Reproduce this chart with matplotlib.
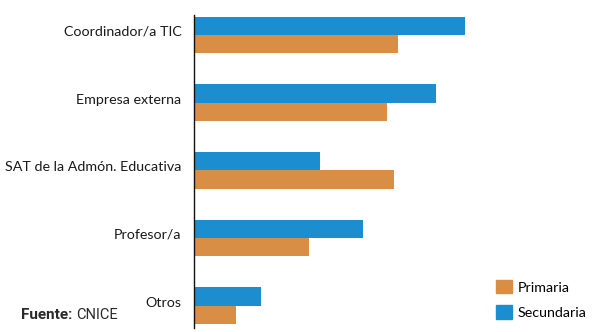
import matplotlib
matplotlib.use("Agg")
import matplotlib.pyplot as plt
import numpy as np
from matplotlib.patches import Patch

categories = ["Coordinador/a TIC", "Empresa externa", "SAT de la Admón. Educativa",
              "Profesor/a", "Otros"]
secundaria = [67.7, 60.5, 31.4, 42.2, 16.7]
primaria = [50.9, 48.2, 50.0, 28.7, 10.5]
series_names = ["Primaria", "Secundaria"]

BLUE, ORANGE = "#1c8ed0", "#d98e45"
FONT = ["Lato", "DejaVu Sans"]

fig = plt.figure(figsize=(5.95, 3.32), dpi=100)
ax = fig.add_axes([194 / 595, 1 - 328 / 332, (589 - 194) / 595, (328 - 15) / 332])

y = np.arange(len(categories))
h = 0.27
ax.barh(y - h / 2, secundaria, height=h, color=BLUE, zorder=2)
ax.barh(y + h / 2, primaria, height=h, color=ORANGE, zorder=2)

ax.set_ylim(len(categories) - 1 + 0.33, -0.296)
ax.set_xlim(0, (589 - 194) / 4)
ax.set_xticks([])
ax.set_yticks(y - 0.06)
ax.set_yticklabels(categories, fontsize=10.3, family=FONT, color="#1a1a1a")
ax.tick_params(axis="y", length=0, pad=9)
for s in ["top", "right", "bottom"]:
    ax.spines[s].set_visible(False)
ax.spines["left"].set_linewidth(1.0)
ax.spines["left"].set_color("#111111")

handles = [Patch(color=ORANGE), Patch(color=BLUE)]
fig.legend(handles, series_names, loc="upper left", bbox_to_anchor=(496 / 595, 1 - 280 / 332),
           frameon=False, borderpad=0, borderaxespad=0, handlelength=1.12, handleheight=1.05,
           labelspacing=0.82, handletextpad=0.42, prop={"family": FONT, "size": 10.3})

src = fig.text(21 / 595, 1 - 319 / 332, "Fuente:", fontsize=11, weight="bold",
               family=["Roboto", "DejaVu Sans"], color="#2a2a2a", va="baseline")
ax.annotate("CNICE", xy=(1, 0), xycoords=src, xytext=(2.5, 0), textcoords="offset points",
            fontsize=10.5, family=["Roboto", "DejaVu Sans"], color="#2a2a2a",
            va="bottom", ha="left", annotation_clip=False)

fig.savefig("out.png", dpi=100)
